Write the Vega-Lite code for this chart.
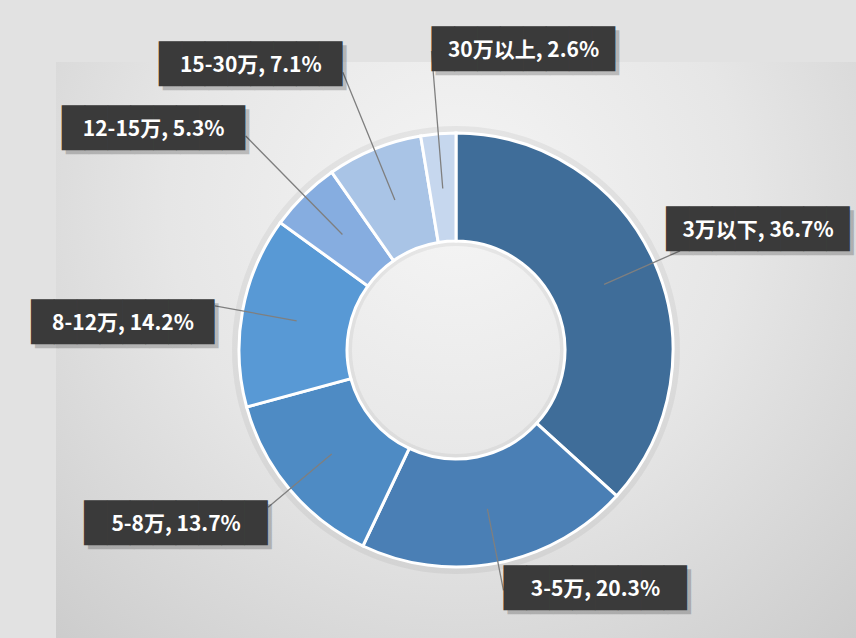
{
  "$schema": "https://vega.github.io/schema/vega-lite/v6.json",
  "width": 800,
  "height": 576,
  "autosize": "none",
  "padding": {"left": 56, "top": 62, "right": 0, "bottom": 0},
  "background": "#e2e2e2",
  "config": {"view": {"stroke": null}},
  "data": {
    "values": [
      {"label": "3万以下", "pct": 36.7, "text": "3万以下, 36.7%"},
      {"label": "3-5万", "pct": 20.3, "text": "3-5万, 20.3%"},
      {"label": "5-8万", "pct": 13.7, "text": "5-8万, 13.7%"},
      {"label": "8-12万", "pct": 14.2, "text": "8-12万, 14.2%"},
      {"label": "12-15万", "pct": 5.3, "text": "12-15万, 5.3%"},
      {"label": "15-30万", "pct": 7.1, "text": "15-30万, 7.1%"},
      {"label": "30万以上", "pct": 2.6, "text": "30万以上, 2.6%"}
    ]
  },
  "transform": [
    {"stack": "pct", "groupby": [], "as": ["s0", "s1"]},
    {"calculate": "(datum.s0 + datum.s1) / 2", "as": "mid"}
  ],
  "layer": [
    {
      "transform": [{"aggregate": [{"op": "count", "as": "n"}]}],
      "mark": {
        "type": "rect",
        "fill": {
          "gradient": "radial",
          "x1": 0.5, "y1": 0.32, "r1": 0,
          "x2": 0.5, "y2": 0.32, "r2": 0.8,
          "stops": [
            {"offset": 0, "color": "#f5f5f5"},
            {"offset": 0.45, "color": "#e6e6e6"},
            {"offset": 1, "color": "#c8c8c8"}
          ]
        }
      },
      "encoding": {}
    },
    {
      "transform": [{"aggregate": [{"op": "count", "as": "n"}]}],
      "mark": {"type": "arc", "innerRadius": 104, "outerRadius": 224, "fill": "#000000", "opacity": 0.05},
      "encoding": {}
    },
    {
      "mark": {"type": "arc", "innerRadius": 109, "outerRadius": 217, "stroke": "#ffffff", "strokeWidth": 3},
      "encoding": {
        "theta": {"field": "s0", "type": "quantitative", "scale": {"domain": [0, 99.9]}},
        "theta2": {"field": "s1"},
        "color": {
          "field": "label", "type": "nominal", "legend": null,
          "scale": {
            "domain": ["3万以下", "3-5万", "5-8万", "8-12万", "12-15万", "15-30万", "30万以上"],
            "range": ["#3f6d99", "#4a7fb5", "#4e8bc4", "#5899d5", "#86ade0", "#a9c4e6", "#c6d7ee"]
          }
        }
      }
    },
    {
      "transform": [{"filter": {"field": "label", "oneOf": ["3万以下", "3-5万", "5-8万", "8-12万"]}}],
      "mark": {"type": "arc", "innerRadius": 162, "outerRadius": 245, "filled": false, "stroke": "#7f7f7f", "strokeWidth": 1.3},
      "encoding": {"theta": {"field": "mid", "type": "quantitative", "scale": {"domain": [0, 99.9]}}, "theta2": {"field": "mid"}}
    },
    {
      "transform": [{"filter": {"field": "label", "oneOf": ["30万以上", "15-30万", "12-15万"]}}],
      "mark": {"type": "arc", "innerRadius": 162, "outerRadius": 300, "filled": false, "stroke": "#7f7f7f", "strokeWidth": 1.3},
      "encoding": {"theta": {"field": "mid", "type": "quantitative", "scale": {"domain": [0, 99.9]}}, "theta2": {"field": "mid"}}
    },

    {
      "transform": [{"filter": {"field": "label", "oneOf": ["3万以下"]}}],
      "mark": {"type": "text", "radius": 245, "dx": 82, "dy": -16, "align": "center", "baseline": "middle", "font": "DejaVu Sans Mono", "fontSize": 38, "color": "#000000", "opacity": 0.2},
      "encoding": {"theta": {"field": "mid", "type": "quantitative", "scale": {"domain": [0, 99.9]}}, "text": {"value": "████████"}}
    },
    {
      "transform": [{"filter": {"field": "label", "oneOf": ["3万以下"]}}],
      "mark": {"type": "text", "radius": 245, "dx": 78, "dy": -20, "align": "center", "baseline": "middle", "font": "DejaVu Sans Mono", "fontSize": 38, "color": "#3a3a3a"},
      "encoding": {"theta": {"field": "mid", "type": "quantitative", "scale": {"domain": [0, 99.9]}}, "text": {"value": "████████"}}
    },
    {
      "transform": [{"filter": {"field": "label", "oneOf": ["3万以下"]}}],
      "mark": {"type": "text", "radius": 245, "dx": 78, "dy": -20, "align": "center", "baseline": "middle", "font": "Noto Sans CJK SC", "fontSize": 21, "fontWeight": "bold", "color": "#ffffff"},
      "encoding": {"theta": {"field": "mid", "type": "quantitative", "scale": {"domain": [0, 99.9]}}, "text": {"field": "text"}}
    },

    {
      "transform": [{"filter": {"field": "label", "oneOf": ["3-5万"]}}],
      "mark": {"type": "text", "radius": 245, "dx": 96, "dy": 4, "align": "center", "baseline": "middle", "font": "DejaVu Sans Mono", "fontSize": 38, "color": "#000000", "opacity": 0.2},
      "encoding": {"theta": {"field": "mid", "type": "quantitative", "scale": {"domain": [0, 99.9]}}, "text": {"value": "████████"}}
    },
    {
      "transform": [{"filter": {"field": "label", "oneOf": ["3-5万"]}}],
      "mark": {"type": "text", "radius": 245, "dx": 92, "align": "center", "baseline": "middle", "font": "DejaVu Sans Mono", "fontSize": 38, "color": "#3a3a3a"},
      "encoding": {"theta": {"field": "mid", "type": "quantitative", "scale": {"domain": [0, 99.9]}}, "text": {"value": "████████"}}
    },
    {
      "transform": [{"filter": {"field": "label", "oneOf": ["3-5万"]}}],
      "mark": {"type": "text", "radius": 245, "dx": 92, "align": "center", "baseline": "middle", "font": "Noto Sans CJK SC", "fontSize": 21, "fontWeight": "bold", "color": "#ffffff"},
      "encoding": {"theta": {"field": "mid", "type": "quantitative", "scale": {"domain": [0, 99.9]}}, "text": {"field": "text"}}
    },

    {
      "transform": [{"filter": {"field": "label", "oneOf": ["5-8万", "8-12万"]}}],
      "mark": {"type": "text", "radius": 245, "dx": -88, "dy": 22, "align": "center", "baseline": "middle", "font": "DejaVu Sans Mono", "fontSize": 38, "color": "#000000", "opacity": 0.2},
      "encoding": {"theta": {"field": "mid", "type": "quantitative", "scale": {"domain": [0, 99.9]}}, "text": {"value": "████████"}}
    },
    {
      "transform": [{"filter": {"field": "label", "oneOf": ["5-8万", "8-12万"]}}],
      "mark": {"type": "text", "radius": 245, "dx": -92, "dy": 18, "align": "center", "baseline": "middle", "font": "DejaVu Sans Mono", "fontSize": 38, "color": "#3a3a3a"},
      "encoding": {"theta": {"field": "mid", "type": "quantitative", "scale": {"domain": [0, 99.9]}}, "text": {"value": "████████"}}
    },
    {
      "transform": [{"filter": {"field": "label", "oneOf": ["5-8万", "8-12万"]}}],
      "mark": {"type": "text", "radius": 245, "dx": -92, "dy": 18, "align": "center", "baseline": "middle", "font": "Noto Sans CJK SC", "fontSize": 21, "fontWeight": "bold", "color": "#ffffff"},
      "encoding": {"theta": {"field": "mid", "type": "quantitative", "scale": {"domain": [0, 99.9]}}, "text": {"field": "text"}}
    },

    {
      "transform": [{"filter": {"field": "label", "oneOf": ["30万以上"]}}],
      "mark": {"type": "text", "radius": 300, "dx": 96, "dy": 4, "align": "center", "baseline": "middle", "font": "DejaVu Sans Mono", "fontSize": 38, "color": "#000000", "opacity": 0.2},
      "encoding": {"theta": {"field": "mid", "type": "quantitative", "scale": {"domain": [0, 99.9]}}, "text": {"value": "████████"}}
    },
    {
      "transform": [{"filter": {"field": "label", "oneOf": ["30万以上"]}}],
      "mark": {"type": "text", "radius": 300, "dx": 92, "align": "center", "baseline": "middle", "font": "DejaVu Sans Mono", "fontSize": 38, "color": "#3a3a3a"},
      "encoding": {"theta": {"field": "mid", "type": "quantitative", "scale": {"domain": [0, 99.9]}}, "text": {"value": "████████"}}
    },
    {
      "transform": [{"filter": {"field": "label", "oneOf": ["30万以上"]}}],
      "mark": {"type": "text", "radius": 300, "dx": 92, "align": "center", "baseline": "middle", "font": "Noto Sans CJK SC", "fontSize": 21, "fontWeight": "bold", "color": "#ffffff"},
      "encoding": {"theta": {"field": "mid", "type": "quantitative", "scale": {"domain": [0, 99.9]}}, "text": {"field": "text"}}
    },

    {
      "transform": [{"filter": {"field": "label", "oneOf": ["15-30万", "12-15万"]}}],
      "mark": {"type": "text", "radius": 300, "dx": -88, "dy": -2, "align": "center", "baseline": "middle", "font": "DejaVu Sans Mono", "fontSize": 38, "color": "#000000", "opacity": 0.2},
      "encoding": {"theta": {"field": "mid", "type": "quantitative", "scale": {"domain": [0, 99.9]}}, "text": {"value": "████████"}}
    },
    {
      "transform": [{"filter": {"field": "label", "oneOf": ["15-30万", "12-15万"]}}],
      "mark": {"type": "text", "radius": 300, "dx": -92, "dy": -6, "align": "center", "baseline": "middle", "font": "DejaVu Sans Mono", "fontSize": 38, "color": "#3a3a3a"},
      "encoding": {"theta": {"field": "mid", "type": "quantitative", "scale": {"domain": [0, 99.9]}}, "text": {"value": "████████"}}
    },
    {
      "transform": [{"filter": {"field": "label", "oneOf": ["15-30万", "12-15万"]}}],
      "mark": {"type": "text", "radius": 300, "dx": -92, "dy": -6, "align": "center", "baseline": "middle", "font": "Noto Sans CJK SC", "fontSize": 21, "fontWeight": "bold", "color": "#ffffff"},
      "encoding": {"theta": {"field": "mid", "type": "quantitative", "scale": {"domain": [0, 99.9]}}, "text": {"field": "text"}}
    }
  ]
}
